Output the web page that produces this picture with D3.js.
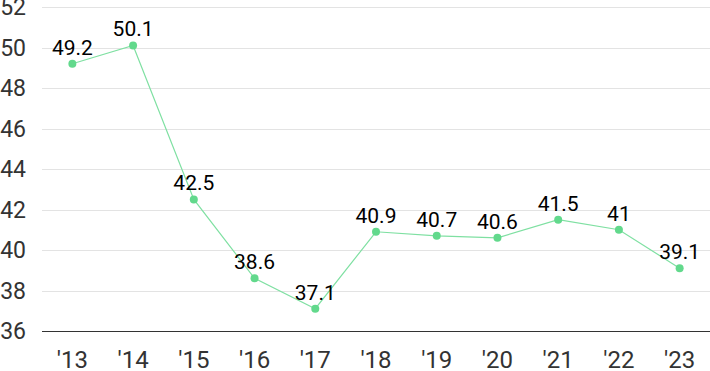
<!DOCTYPE html>
<html>
<head>
<meta charset="utf-8">
<script src="https://cdn.jsdelivr.net/npm/d3@7"></script>
<style>
  body { margin: 0; background: #fff; }
  svg text { font-family: Roboto, "Noto Sans", sans-serif; }
</style>
</head>
<body>
<div id="chart"></div>
<script>
const years = ["'13", "'14", "'15", "'16", "'17", "'18", "'19", "'20", "'21", "'22", "'23"];
const values = [49.2, 50.1, 42.5, 38.6, 37.1, 40.9, 40.7, 40.6, 41.5, 41, 39.1];
const yTicks = [36, 38, 40, 42, 44, 46, 48, 50, 52];

const width = 710, height = 371;
const margin = {top: 7, right: 0, bottom: 40, left: 42};

const svg = d3.select("#chart").append("svg")
    .attr("width", width)
    .attr("height", height);

// escalas
const x = d3.scalePoint()
    .domain(years)
    .range([margin.left, width - margin.right])
    .padding(0.5);

const y = d3.scaleLinear()
    .domain([36, 52])
    .range([height - margin.bottom, margin.top]);

// grid
svg.append("g")
    .selectAll("line")
    .data(yTicks.slice(1))
    .join("line")
    .attr("x1", margin.left)
    .attr("x2", width)
    .attr("y1", d => Math.round(y(d)) + 0.5)
    .attr("y2", d => Math.round(y(d)) + 0.5)
    .attr("stroke", "#e3e3e3");

// eje X
svg.append("line")
    .attr("x1", margin.left)
    .attr("x2", width)
    .attr("y1", Math.round(y(36)) + 0.5)
    .attr("y2", Math.round(y(36)) + 0.5)
    .attr("stroke", "#333");

svg.append("g")
    .selectAll("text")
    .data(years)
    .join("text")
    .attr("x", d => x(d))
    .attr("y", 368)
    .attr("text-anchor", "middle")
    .attr("font-size", 24)
    .attr("fill", "#333")
    .text(d => d);

// eje Y
svg.append("g")
    .selectAll("text")
    .data(yTicks)
    .join("text")
    .attr("x", 26)
    .attr("y", d => y(d) + 8)
    .attr("text-anchor", "end")
    .attr("font-size", 23)
    .attr("fill", "#333")
    .text(d => d);

// linea
const line = d3.line()
    .x((d, i) => x(years[i]))
    .y(d => y(d));

svg.append("path")
    .datum(values)
    .attr("d", line)
    .attr("fill", "none")
    .attr("stroke", "#7fe0a2")
    .attr("stroke-width", 1.2);

svg.append("g")
    .selectAll("circle")
    .data(values)
    .join("circle")
    .attr("cx", (d, i) => x(years[i]))
    .attr("cy", d => y(d))
    .attr("r", 4)
    .attr("fill", "#62d98c");

svg.append("g")
    .selectAll("text")
    .data(values)
    .join("text")
    .attr("x", (d, i) => x(years[i]))
    .attr("y", d => y(d) - 9)
    .attr("text-anchor", "middle")
    .attr("font-size", 21)
    .attr("fill", "#000")
    .text(d => d);
</script>
</body>
</html>
